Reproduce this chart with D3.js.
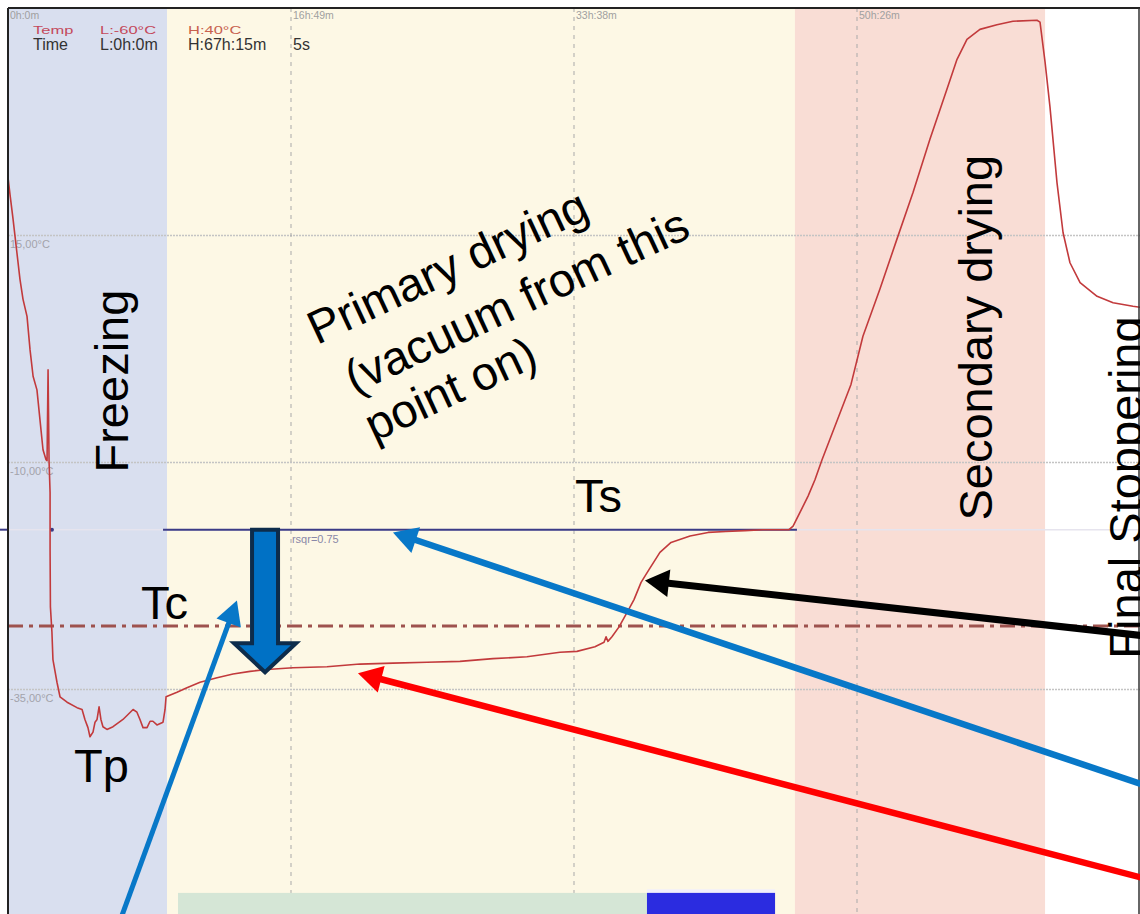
<!DOCTYPE html>
<html>
<head>
<meta charset="utf-8">
<script src="https://d3js.org/d3.v7.min.js"></script>
<style>
  body { margin: 0; background: #fff; }
  svg { display: block; }
</style>
</head>
<body>
<svg id="chart"></svg>
<script>
'use strict';

// product temperature (probe) over the run, hours / degC
var timeH = [0.00, 0.12, 0.30, 0.53, 0.71, 0.89, 1.13, 1.31, 1.49, 1.72, 1.90, 2.08, 2.26, 2.32, 2.38, 2.44,
	2.50, 2.50, 2.52, 2.61, 2.67, 2.91, 3.09, 3.51, 4.10, 4.40, 4.57, 4.75, 4.87, 5.05, 5.17, 5.29, 5.41,
	5.52, 5.64, 5.88, 6.24, 6.83, 7.43, 7.66, 7.84, 8.02, 8.26, 8.44, 8.61, 8.85, 9.21, 9.33, 9.39,
	10.04, 10.63, 11.41, 12.42, 13.37, 14.38, 15.39, 16.93, 18.95, 20.91, 22.87, 24.89, 26.85, 28.81,
	30.83, 32.79, 33.80, 34.87, 35.41, 35.53, 35.64, 35.88, 36.30, 36.78, 37.19, 37.61, 38.08, 38.73,
	39.39, 40.52, 41.59, 42.65, 43.78, 44.85, 46.40, 46.64, 47.05, 47.53, 47.94, 48.36, 50.08, 50.79,
	51.80, 52.81, 53.76, 54.77, 55.78, 56.38, 56.97, 57.74, 58.75, 59.70, 61.13, 61.31, 61.61, 61.90,
	62.32, 62.68, 63.09, 63.69, 64.70, 65.65, 66.83, 67.25]
var tempC = [21.4, 19.5, 16.8, 13.1, 10.2, 8.0, 6.1, 2.4, -0.5, -2.0, -5.3, -8.6, -9.7, -9.8, 0.2, -9.9,
	-13.3, -19.6, -25.9, -28.7, -31.7, -34.2, -35.8, -36.4, -37.0, -37.2, -38.3, -39.2, -40.2, -39.7, -38.6, -38.3, -36.9,
	-38.3, -39.1, -39.4, -39.1, -38.3, -37.2, -37.5, -38.3, -39.2, -39.2, -38.5, -38.5, -38.9, -38.6, -37.2, -35.8,
	-35.3, -34.8, -34.2, -33.7, -33.3, -33.0, -32.8, -32.6, -32.5, -32.2, -32.1, -32.0, -31.9, -31.6,
	-31.4, -30.9, -30.8, -30.3, -29.8, -29.2, -29.7, -29.2, -28.1, -26.5, -25.1, -23.2, -21.8, -19.9,
	-18.8, -18.1, -17.7, -17.6, -17.5, -17.4, -17.4, -17.0, -15.5, -13.7, -11.9, -9.7, -1.4, 3.9,
	9.1, 14.6, 19.7, 25.6, 31.1, 34.4, 36.6, 37.7, 38.2, 38.6, 38.7, 38.5, 34.1, 29.2,
	20.8, 15.3, 12.0, 9.8, 8.3, 7.6, 7.2, 7.1]

// phases (hours)
var phaseNames = ['freezing', 'primary', 'secondary']
var phaseStart = [0, 9.45, 46.75]
var phaseEnd = [9.45, 46.75, 61.61]
var phaseColor = ['#d9dfef', '#fdf8e5', '#f9ddd5']

// axis ticks
var timeTicks = [0, 16.8125, 33.625, 50.4375]
var timeLabels = ['0h:0m', '16h:49m', '33h:38m', '50h:26m']
var tempTicks = [15, -10, -35]
var tempLabels = ['15,00°C', '-10,00°C', '-35,00°C']

// reference temperatures
var tsTemp = -17.4, tsFrom = 9.21, tsTo = 46.87
var tcTemp = -28

// progress bar at the bottom (hours)
var barStart = [10.10, 37.96]
var barEnd = [37.96, 45.57]
var barColor = ['#d5e6d6', '#2b2ce0']

// annotation arrows: [fromTime, fromTemp, toTime, toTemp]
var arrowFrom = [[6.65, -60.5], [67.3, -45.4], [67.3, -55.7], [67.3, -29.05]]
var arrowTo = [[13.60, -25.2], [22.87, -17.7], [20.79, -33.2], [37.84, -23.0]]
var arrowColor = ['#0878c8', '#0878c8', '#ff0000', '#000000']
var arrowWidth = [5, 6.5, 6.5, 7]

// labels: text, time, temp, rotation
var labelText = ['Freezing', 'Secondary drying', 'Final Stoppering', 'Ts', 'Tc', 'Tp']
var labelTime = [7.13, 58.46, 67.37, 33.68, 7.90, 3.92]
var labelTemp = [-11.1, -16.4, -31.6, -15.5, -27.2, -45.2]
var labelRot = [-90, -90, -90, 0, 0, 0]
var primaryLines = ['Primary drying', '(vacuum from this', 'point on)']

var width = 1140, height = 914
var padLeft = 8, padTop = 8

var svg = d3.select('#chart').attr('width', width).attr('height', height)
	.style('font-family', '"Liberation Sans", Arial, sans-serif')

var x = d3.scaleLinear().domain([0, 67.25]).range([padLeft, width])
var y = d3.scaleLinear().domain([40, -60]).range([padTop + 0.5, 916.5])

// phase backgrounds
svg.selectAll('rect.phase').data(phaseNames).enter().append('rect')
	.attr('class', 'phase')
	.attr('x', function(d, i) { return x(phaseStart[i]) })
	.attr('y', padTop)
	.attr('width', function(d, i) { return x(phaseEnd[i]) - x(phaseStart[i]) })
	.attr('height', height - padTop)
	.attr('fill', function(d, i) { return phaseColor[i] })

// horizontal grid
svg.selectAll('line.hgrid').data(tempTicks).enter().append('line')
	.attr('x1', padLeft).attr('x2', width)
	.attr('y1', function(d) { return y(d) }).attr('y2', function(d) { return y(d) })
	.attr('stroke', '#c4c4c4').attr('stroke-width', 1.5).attr('stroke-dasharray', '2,1')
svg.selectAll('text.hlab').data(tempTicks).enter().append('text')
	.attr('x', padLeft + 2).attr('y', function(d) { return y(d) + 12 })
	.attr('font-size', 11).attr('fill', '#a3a3ab')
	.text(function(d, i) { return tempLabels[i] })

// vertical grid
svg.selectAll('line.vgrid').data(timeTicks.slice(1)).enter().append('line')
	.attr('x1', function(d) { return x(d) }).attr('x2', function(d) { return x(d) })
	.attr('y1', padTop).attr('y2', height)
	.attr('stroke', '#a9a9a9').attr('stroke-width', 1).attr('stroke-dasharray', '4,5')
svg.selectAll('text.vlab').data(timeTicks).enter().append('text')
	.attr('x', function(d) { return x(d) + 2 }).attr('y', padTop + 11)
	.attr('font-size', 10.5).attr('fill', '#a0a0a0')
	.text(function(d, i) { return timeLabels[i] })

// Ts line (faint full width + the fitted part)
svg.append('line').attr('x1', padLeft).attr('x2', width)
	.attr('y1', y(tsTemp)).attr('y2', y(tsTemp))
	.attr('stroke', '#e6e4ee').attr('stroke-width', 1.5)
svg.append('line').attr('x1', 0).attr('x2', padLeft)
	.attr('y1', y(tsTemp)).attr('y2', y(tsTemp))
	.attr('stroke', '#3b3b86').attr('stroke-width', 2)
svg.append('line').attr('x1', x(tsFrom)).attr('x2', x(tsTo))
	.attr('y1', y(tsTemp)).attr('y2', y(tsTemp))
	.attr('stroke', '#3b3b86').attr('stroke-width', 2)
svg.append('circle').attr('cx', x(2.61)).attr('cy', y(tsTemp)).attr('r', 2).attr('fill', '#3b3b86')
svg.append('text').attr('x', x(16.87)).attr('y', y(-18.9))
	.attr('font-size', 11).attr('fill', '#8a88a8').text('rsqr=0.75')

// Tc dash-dot
svg.append('line').attr('x1', padLeft).attr('x2', width)
	.attr('y1', y(tcTemp)).attr('y2', y(tcTemp))
	.attr('stroke', '#9e524e').attr('stroke-width', 3).attr('stroke-dasharray', '15,6,4,6')

// progress bar
svg.append('rect').attr('x', x(barStart[1])).attr('y', y(-57.0))
	.attr('width', x(barEnd[1]) - x(barStart[1])).attr('height', 5).attr('fill', '#f2f0fb')
svg.selectAll('rect.bar').data(barStart).enter().append('rect')
	.attr('x', function(d) { return x(d) })
	.attr('y', y(-57.4))
	.attr('width', function(d, i) { return x(barEnd[i]) - x(d) })
	.attr('height', height - y(-57.4))
	.attr('fill', function(d, i) { return barColor[i] })

// temperature trace
var line = d3.line().x(function(d) { return x(d[0]) }).y(function(d) { return y(d[1]) })
svg.append('path').datum(d3.zip(timeH, tempC))
	.attr('d', line).attr('fill', 'none')
	.attr('stroke', '#c23a3c').attr('stroke-width', 1.6).attr('stroke-linejoin', 'round')

// header legend (temp row is squashed above the time row, like the logger screen)
var head = svg.append('g')
head.append('g').attr('transform', 'translate(0,34) scale(1,0.7)').attr('font-size', 16.5).selectAll('text')
	.data([['Temp', 33, '#c4495b'], ['L:-60°C', 100, '#c4495b'], ['H:40°C', 188, '#c8614f']])
	.enter().append('text')
	.attr('x', function(d) { return d[1] }).attr('fill', function(d) { return d[2] })
	.text(function(d) { return d[0] })
head.append('g').attr('font-size', 16).selectAll('text')
	.data([['Time', 33], ['L:0h:0m', 100], ['H:67h:15m', 188], ['5s', 293]])
	.enter().append('text')
	.attr('x', function(d) { return d[1] }).attr('y', 50).attr('fill', '#333')
	.text(function(d) { return d[0] })

// frame
svg.append('line').attr('x1', padLeft).attr('x2', width).attr('y1', padTop).attr('y2', padTop)
	.attr('stroke', '#222').attr('stroke-width', 2)
svg.append('line').attr('x1', padLeft).attr('x2', padLeft).attr('y1', padTop).attr('y2', height)
	.attr('stroke', '#222').attr('stroke-width', 2)
svg.append('line').attr('x1', width - 1).attr('x2', width - 1).attr('y1', padTop).attr('y2', height)
	.attr('stroke', '#333').attr('stroke-width', 1.5)

// big labels
svg.selectAll('text.big').data(labelText).enter().append('text')
	.attr('transform', function(d, i) {
		return 'translate(' + x(labelTime[i]) + ',' + y(labelTemp[i]) + ') rotate(' + labelRot[i] + ')'
	})
	.attr('font-size', 47).attr('fill', '#000')
	.text(function(d) { return d })

svg.append('text')
	.attr('transform', 'translate(' + x(18.36) + ',' + y(2.9) + ') rotate(-25)')
	.attr('font-size', 47).attr('fill', '#000')
	.selectAll('tspan').data(primaryLines).enter().append('tspan')
	.attr('x', function(d, i) { return [0, 13, 11][i] }).attr('y', function(d, i) { return [0, 60, 112][i] })
	.text(function(d) { return d })

// block arrow from Ts down to the trace
var bx = x(15.27), bTop = y(tsTemp), bBase = y(-29.9), bTip = y(-33.1)
var block = [[bx - 13, bTop], [bx + 13, bTop], [bx + 13, bBase], [bx + 31, bBase], [bx, bTip],
	[bx - 31, bBase], [bx - 13, bBase]]
svg.append('path').attr('d', 'M' + block.join('L') + 'Z')
	.attr('fill', '#0071c5').attr('stroke', '#0d2c4b').attr('stroke-width', 4)
	.attr('stroke-linejoin', 'miter')

// pointer arrows
arrowFrom.forEach(function(f, i) {
	var x1 = x(f[0]), y1 = y(f[1]), x2 = x(arrowTo[i][0]), y2 = y(arrowTo[i][1])
	var dx = x2 - x1, dy = y2 - y1, len = Math.sqrt(dx * dx + dy * dy)
	var ux = dx / len, uy = dy / len
	var hl = 24, hw = 11 + arrowWidth[i] * 0.4
	svg.append('line')
		.attr('x1', x1).attr('y1', y1)
		.attr('x2', x2 - ux * hl * 0.8).attr('y2', y2 - uy * hl * 0.8)
		.attr('stroke', arrowColor[i]).attr('stroke-width', arrowWidth[i])
	var bxh = x2 - ux * hl, byh = y2 - uy * hl
	var pts = [[x2, y2], [bxh - uy * hw, byh + ux * hw], [bxh + uy * hw, byh - ux * hw]]
	svg.append('path').attr('d', 'M' + pts.join('L') + 'Z').attr('fill', arrowColor[i])
})
</script>
</body>
</html>
